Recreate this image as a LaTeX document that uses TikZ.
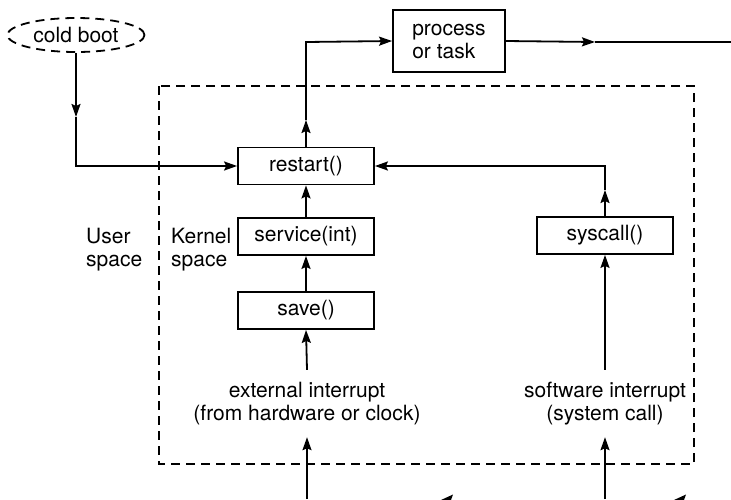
\documentclass[tikz,border=0pt]{standalone}
\usepackage{fontspec}
\setmainfont{TeX Gyre Heros}
\usetikzlibrary{arrows.meta,shapes.geometric}
\begin{document}
\begin{tikzpicture}[x=1pt,y=-1pt,
  every node/.style={font=\fontsize{21}{23}\selectfont, inner sep=0pt},
  fbox/.style={draw, line width=1.8pt, minimum width=136pt, minimum height=37pt},
  conn/.style={line width=1.8pt},
  arr/.style={line width=1.8pt, -{Stealth[length=13pt,width=9pt,inset=2pt]}},
  dashline/.style={line width=1.8pt, dash pattern=on 9pt off 6pt}]
\useasboundingbox (0,0) rectangle (731,499);
% dashed kernel region
\draw[dashline] (159,86) rectangle (694,464);
% nodes
\node[draw, dashline, ellipse, minimum width=137pt, minimum height=34pt] (cb) at (76,35) {cold boot};
\node[draw, line width=1.8pt, minimum width=112pt, minimum height=62pt, align=left] (proc) at (449,41) {process\\or task};
\node[fbox] (restart) at (306,166) {restart()};
\node[fbox] (service) at (306,236.5) {service(int)};
\node[fbox] (save) at (306,310.5) {save()};
\node[fbox] (syscall) at (605,235.5) {syscall()};
\node[anchor=west, align=left] (user) at (86,250) {User\\space};
\node[anchor=west, align=left] (kernel) at (171,250) {Kernel\\space};
\node[align=center, minimum height=67pt] (ext) at (307,403.5) {external interrupt\\(from hardware or clock)};
\node[align=center, minimum height=67pt] (sw) at (605,403.5) {software interrupt\\(system call)};
% coordinates
\coordinate (c1) at (76,117);
\coordinate (c2) at (76,166);
\coordinate (c3) at (306,120);
\coordinate (c4) at (306,42);
\coordinate (c5) at (595,42);
\coordinate (c6) at (731,42);
\coordinate (c7) at (605,190);
\coordinate (c8) at (605,166);
\coordinate (b1) at (307,499);
\coordinate (b2) at (605,499);
% connectors
\draw[arr] (cb.south) -- (c1);
\draw[arr] (c1) -- (c2) -- (restart.west);
\draw[arr] (restart.north) -- (c3);
\draw[arr] (c3) -- (c4) -- (proc.west);
\draw[arr] (proc.east) -- (c5);
\draw[conn] (c5) -- (c6);
\draw[arr] (service.north) -- (restart.south);
\draw[arr] (save.north) -- (service.south);
\draw[arr] (ext.north) -- (save.south);
\draw[arr] (b1) -- (ext.south);
\draw[arr] (syscall.north) -- (c7);
\draw[arr] (c7) -- (c8) -- (restart.east);
\draw[arr] (sw.north) -- (syscall.south);
\draw[arr] (b2) -- (sw.south);
% cut-off arrowhead fragments at the bottom edge
\fill (441,500) -- (453,494.5) -- (451,500) -- cycle;
\fill (674,500) -- (686,494.5) -- (684,500) -- cycle;
\end{tikzpicture}
\end{document}
